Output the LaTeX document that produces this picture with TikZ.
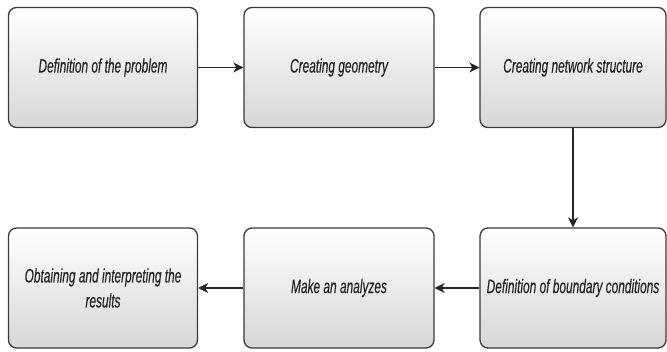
\documentclass[tikz,border=0pt]{standalone}
\usepackage{fontspec}
\setmainfont{Liberation Sans}[ItalicFeatures={FakeStretch=0.61,FakeBold=0.35}]
\usetikzlibrary{arrows.meta,shadings}
\definecolor{txt}{HTML}{262626}
\definecolor{edge}{HTML}{3A3A3A}
\tikzset{
  box/.style={rectangle, rounded corners=8pt, draw=edge, line width=1.3pt,
    top color=white, bottom color=black!16, minimum width=#1, minimum height=120pt,
    align=center, text=txt, font=\fontsize{19.5}{25}\selectfont\itshape, inner sep=0pt},
  box/.default=189pt,
  conn/.style={draw=black!85, line width=1.2pt, -{Stealth[length=10pt,width=10pt,inset=3pt]}}
}
\begin{document}
\begin{tikzpicture}[x=1pt,y=1pt]
\useasboundingbox (0,0) rectangle (667,351);
\node[box] (p1) at (103,283.5) {Definition of the problem};
\node[box=190pt] (p2) at (339,283.5) {Creating geometry};
\node[box=186pt] (p3) at (573,283.5) {Creating network structure};
\node[box=186pt] (p4) at (573,63) {Definition of boundary conditions};
\node[box=190pt] (p5) at (339,63) {Make an analyzes};
\node[box] (p6) at (103,63) {Obtaining and interpreting the\\results};
\draw[conn] (p1) -- (p2);
\draw[conn] (p2) -- (p3);
\draw[conn] (p3.south) -- (p4.north);
\draw[conn] (p4) -- (p5);
\draw[conn] (p5) -- (p6);
\end{tikzpicture}
\end{document}
